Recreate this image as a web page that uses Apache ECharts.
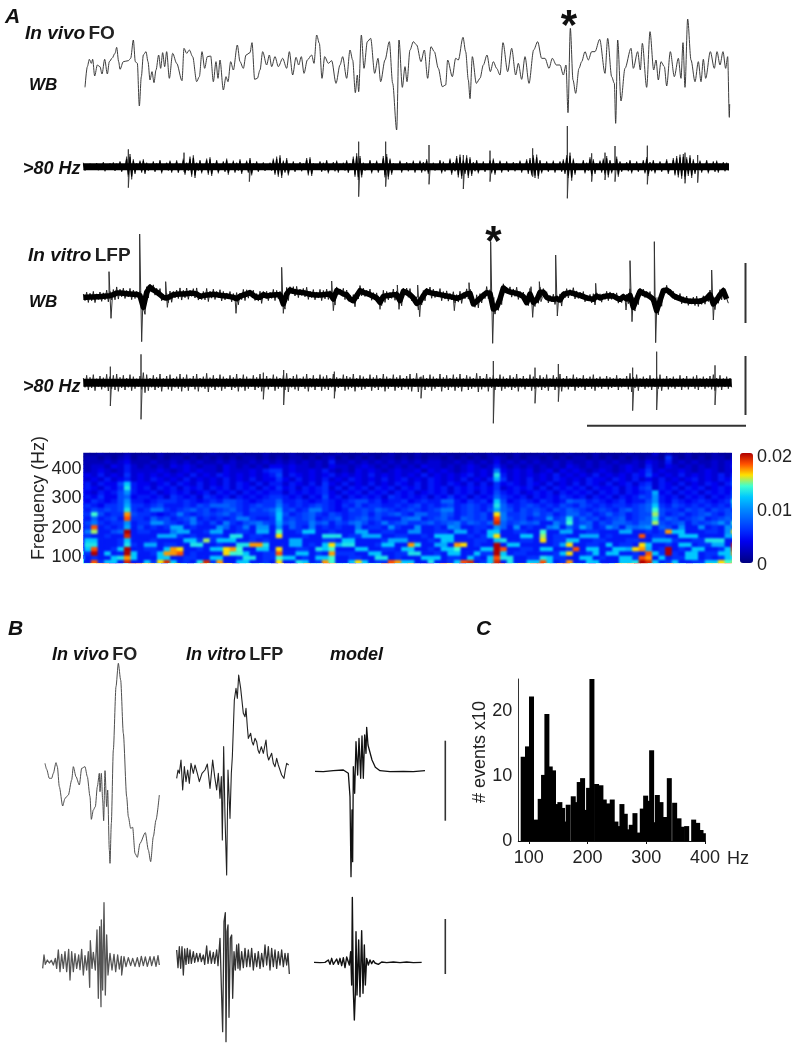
<!DOCTYPE html>
<html><head><meta charset="utf-8">
<style>html,body{margin:0;padding:0;background:#fff}#c{width:795px;height:1050px;filter:blur(0.4px)}
#specWrap{position:absolute;left:84px;top:453px;width:648px;height:110px;overflow:hidden}
#spec{position:absolute;left:-6px;top:-6px;width:660px;height:122px;filter:blur(0.9px)}</style>
<script src="https://cdn.jsdelivr.net/npm/echarts@6/dist/echarts.min.js"></script>
</head><body><div id="c"></div><div id="specWrap"><div id="spec"></div></div>
<script>
// ---- Panel A traces: time in samples (3 per px), amplitude in a.u. (3 per px) ----
const wbVivoA=[255,-62,262,0,268,22,274,10,278,22,284,-28,292,5,300,0,306,-22,314,22,322,-22,328,15,336,25,345,40,350,58,356,15,360,-8,370,15,385,18,392,25,400,80,406,15,412,10,418,-118,424,-30,430,35,438,45,444,15,450,-40,456,-15,462,-48,468,-10,476,35,482,-5,488,42,494,0,500,45,508,-35,518,40,530,10,546,-42,552,55,560,40,568,50,578,30,590,-45,598,-30,606,45,614,-5,622,30,632,32,640,-45,648,15,654,-35,660,20,670,-70,678,-30,684,-45,692,15,700,-10,712,65,720,15,730,-5,738,35,750,42,756,72,764,-38,772,-35,780,-10,788,45,800,5,808,35,815,0,825,30,835,0,848,25,860,-5,868,45,878,-25,888,28,896,5,904,30,912,-20,922,20,935,35,942,10,950,95,958,70,966,-35,974,30,985,10,995,18,1008,-50,1020,5,1028,30,1040,-35,1050,50,1058,20,1066,-78,1072,-25,1076,-75,1084,95,1092,-5,1102,75,1112,85,1124,-20,1134,25,1142,-45,1155,20,1168,75,1178,-50,1190,-190];
const wbVivoB=[1197,80,1207,-62,1215,0,1221,-45,1230,50,1240,75,1250,65,1263,15,1273,50,1283,-35,1293,60,1303,45,1315,-5,1327,-60,1337,-55,1343,20,1357,-30,1367,25,1375,20,1389,88,1397,45,1405,-40,1410,-96,1417,30,1429,-50,1440,-35,1450,5,1461,35,1471,-15,1480,15,1490,-5,1500,-25,1509,72,1523,-15,1535,55,1547,-25,1555,10,1565,-38,1575,30,1587,-50,1601,50,1613,75,1625,25,1635,25,1647,-5,1657,25,1669,5,1680,5,1690,-25,1698,5,1704,-138,1711,115,1719,-40,1727,-80,1737,-5,1745,15,1755,45,1765,20,1775,45,1785,45,1799,82,1815,-20,1823,85,1835,-30,1843,-50,1847,-170,1853,80,1863,-103,1875,-5,1893,55,1900,-5,1913,45,1921,-10,1927,70,1940,-62,1950,105,1961,-10,1968,20,1975,-40,1983,15,1993,0,2000,-58,2011,45,2023,-30,2035,25,2043,-35,2049,72,2055,-62,2063,143,2073,20,2085,-45,2095,15,2103,-45,2110,22,2117,-35,2131,45,2143,-5,2151,45,2160,5,2169,45,2177,-5,2183,30,2188,-152,2189,-112];
const hfVivoAmp=[12,6,9,5,11,7,14,6,10,13,
9,16,8,30,38,22,10,18,22,12,
8,16,10,20,7,12,18,8,19,9,
24,12,30,34,12,20,8,24,28,10,
20,8,16,24,9,18,12,22,8,18,
26,10,16,7,13,6,12,24,30,34,
18,26,9,16,8,14,10,26,28,10,
8,16,12,20,8,14,18,9,12,19,
10,30,40,32,12,8,20,10,18,9,
32,38,24,10,7,18,8,14,10,18,
9,18,14,22,9,12,7,20,15,8,
24,14,32,36,22,34,28,14,20,9,
16,8,20,24,10,18,9,16,8,14,
10,18,8,22,26,34,36,20,9,16,
8,18,7,16,22,34,42,24,10,8,
20,12,28,22,10,18,24,32,20,10,
30,16,8,14,20,9,16,10,20,28,
14,20,9,16,8,22,10,26,32,36,
38,28,34,22,10,18,8,20,9,16,
18,9,14,12];
const hfVivoSpikes=[[385,52,385,-63],[552,42,552,-15],[748,10,748,-45],[1076,75,1076,-90],[1157,75,1157,-60],[1287,65,1287,-53],[1390,35,1390,-67],[1470,48,1470,-45],[1598,55,1598,-30],[1702,122,1702,-95],[1775,40,1775,-45],[1815,42,1815,-40],[1845,62,1845,-45],[1942,63,1942,-53],[2055,42,2055,-50],[2093,35,2093,-48]];
const wbVitroWander=[0,0,1,1,2,2,3,4,5,8,
13,13,12,11,10,9,9,5,-30,15,
30,22,16,8,0,-2,2,8,9,10,
10,11,12,12,10,3,5,7,8,9,
8,6,5,4,2,0,-4,3,7,10,
14,6,0,0,8,4,6,7,8,8,
-20,10,22,18,16,15,14,12,9,8,
7,7,8,9,10,-5,20,16,10,8,
-5,-10,5,20,15,12,8,3,-2,-15,
3,5,6,8,8,-10,18,14,8,-2,
-18,-12,5,18,14,12,10,8,6,4,
2,0,-3,0,5,10,12,-20,-12,-3,
6,14,12,-35,-30,-5,28,20,16,14,
12,8,2,-16,10,-15,-8,15,15,0,
-4,-6,-4,-8,8,12,14,12,8,6,
2,-2,-4,-6,4,-2,2,4,5,4,
-2,-6,2,-5,6,-30,-5,18,12,8,
2,-6,-40,-10,20,22,15,5,0,-4,
-8,-10,-12,-12,-12,-12,-8,-3,8,-20,
-8,8,20,-5];
const wbVitroSpikes=[[327,77,333,-63],[419,190,425,-133],[497,47,502,-30],[705,5,708,-48],[845,90,850,-48],[995,49,1000,-40],[1137,5,1140,-36],[1192,37,1197,-36],[1253,37,1259,-58],[1360,0,1363,-40],[1407,44,1410,0],[1472,167,1478,-138],[1593,32,1598,-60],[1618,47,1623,-13],[1667,127,1672,-56],[1787,42,1790,-5],[1875,2,1878,-38],[1890,110,1896,-73],[1963,167,1967,-136],[2135,82,2140,-68]];
const hfVitroAmp=[14,22,16,24,12,20,15,25,18,22,
26,16,22,14,24,18,12,20,30,24,
14,22,16,26,13,20,24,14,18,26,
16,24,13,20,26,14,18,28,15,22,
14,24,18,13,22,16,26,14,24,18,
12,22,16,26,14,20,13,24,18,14,
22,28,14,20,24,13,18,26,14,22,
13,24,18,22,14,26,16,13,24,20,
16,26,14,22,18,13,24,16,22,14,
26,18,13,24,16,22,14,20,26,13,
28,16,22,14,24,18,13,26,16,22,
14,24,16,26,13,22,18,14,28,20,
14,26,16,22,13,24,18,14,22,16,
26,14,20,13,24,18,14,22,16,24,
13,22,16,26,14,20,13,24,16,14,
22,13,18,24,14,18,12,20,16,13,
22,14,12,20,28,16,24,13,18,14,
22,13,18,24,12,20,14,18,12,22,
14,20,12,18,22,13,18,14,20,24,
14,22,13,18,14];
const hfVitroSpikes=[[331,48,331,-70],[423,85,423,-110],[790,30,790,-50],[851,38,851,-67],[1003,33,1003,-47],[1263,18,1263,-47],[1480,65,1480,-122],[1605,45,1605,-62],[1675,56,1675,-57],[1898,45,1898,-84],[1970,93,1970,-82],[2145,52,2145,-67]];

// ---- Spectrogram: rows from high to low frequency, one level per time bin, base 36, level x 0.001 ----
const specRows=[
"1111111111 1111111111 1111111111 1111111111 1111111111 1111111111 1111111111 1111111111 1111111111 1111111111",
"1112111211 1121112111 2111211121 1121112112 1112111211 1211121112 1121112111 2111211121 1112111312 1121112111",
"1221212312 2121221212 1212122121 2122121231 2121212212 1212212121 2123212122 1212122121 2121212216 2121212213",
"2222323422 2322323232 2323223232 3232323252 2323232323 2323322323 2324232323 2232322323 2322324325 2323223234",
"3233243532 3232434323 3243232324 4343323243 3234323232 3243323234 3235323232 3232432323 3234325324 3232323235",
"3234323533 3343234343 3243334356 6343343532 3243432343 3424343234 3439434342 3424343234 3234346343 3432343234",
"3435343634 3434343534 3543434345 7354343453 4343534343 4353434345 343d534343 4353434353 4343547434 3534343536",
"4343534534 3543435343 4353435344 6435343534 3543435345 3435434353 435b634353 4354343544 3543534353 4345343547",
"3535447c54 4345354353 4353543535 5354353643 5343534354 3535435435 3536454354 3534353543 5345356354 3534354358",
"4543546d54 5354535453 5453545354 6453545635 3545354535 4535453545 4546345453 5354545354 4535467354 5354534546",
"5435457a54 4534545345 3545354545 5354545643 5453545354 5345453545 3547545345 4535454535 4535456b45 3545354548",
"4546447845 5453654536 5453545456 6545354745 3545453654 5453546453 5458654535 4546545354 5354576a54 5354535458",
"5465457a55 4566656545 6577654566 8556545654 5677564556 4565588546 564c745654 6545877565 4564557a54 654565456d",
"5654667b66 5675556576 8887656766 9656567654 6575665565 6756567567 656d865676 5657657656 5665678c65 765656565b",
"6576767d65 6996567867 5678657678 b675699654 5767687656 7656799567 657b875767 6576876567 6578678e76 6576757676",
"66e7566h76 6545696567 6786756667 c756786576 5667576786 5886687567 675g966768 6756886756 8675677f75 6756786578",
"6585675i66 5867567956 5656996556 c676785678 5678675558 9956786587 675i976756 6a67d68675 6785678d68 7567856787",
"5796566a56 6aa7656965 7596578976 b786697857 6897569678 6678678968 768j867878 5597e67857 6887688f76 7857678a7e",
"56i5656b57 5656bb5655 5a85695aa5 a586595656 5595665a65 5a5565a955 665a85a565 59a586b856 a85989a587 5a55a565a9",
"59f5578k56 65559bb556 bb55665bb5 e556cc5565 55bb556655 aa55665bb5 65cc556655 e55bb55665 55bb55656h cc555665ag",
"6655655j55 55bbb65655 665dd56655 g555655ddd 566bbb5566 5565ccc556 56cg555cc5 f56655bbb5 65555i5665 5ccc5555bb",
"5cc5556c55 565555cc6f 6ccc556565 55bb555665 cc55556bbb 55565cc555 665cd55665 g566cc5566 5556655bbb 65566ddd55",
"6dd5556d65 bb56655dd5 5655ddhhd5 55bb565cgb dd5556cc55 hd55bb5hg5 655k5cc555 556bg55665 c5665gc556 5cc566bb5j",
"5ci556ck55 665chg5565 ccghe55cc5 g55665dce5 55cc55665c c5565cce55 5ccki55665 cc556i5cc5 5ccbghb56k 565cc556cj",
"66k5c55kc5 56chhi5655 55geec5566 i55cc565h6 6655cc5566 dd5565cc55 c66kc56655 556cg556c5 cc5565ic6k 65cc566cch",
"c5655cdhc5 55cc556655 cc556dd566 ecc565cce5 56655dd565 55ccc5665c 65cidd5566 dc6655cc56 55cc6ih5c5 66cc5656cd",
"55i6cc5j55 c6gjc565dj 6h55cc5565 g55dc56he5 5cgc566ihc c55d556cij 56cj5d55cc ic56h55cc5 55ccdkjc56 c5566ccgef",
"dghi55ckjg hd5egc5dif chg5ceaec5 g55dhccihc d5aceejjcc h655cigc5c fdckjcegfi jeahjecc5d 5cgfhkjdce hcd5ccgfhi"];
const freqTicks=[100,200,300,400];
const colorbarStops=['#00007f','#0000b8','#0000f0','#0030ff','#0060ff','#0090ff','#00c8ff','#40ffd0','#ffe000','#ff5000','#b00000'];

// ---- Panel B traces ----
const foTop=[135,20,140,2,148,-25,155,-25,160,-10,168,22,172,10,178,-50,188,-108,195,-85,205,-75,215,-30,220,10,228,-20,238,-45,245,5,255,10,262,-20,270,-80,274,-148,280,-120,286,-110,292,-50,298,-10,300,-65,304,-10,308,-90,311,-152,315,-2,320,-110,323,-60,328,-240,330,-280,334,-160,340,60,348,250,355,320,362,270,370,110,380,-80,385,-140,392,-175,398,-172,405,-250,412,-262,420,-220,436,-188,445,-240,452,-275,460,-200,468,-150,478,-75];
const lfpTop=[530,-25,534,0,538,-10,543,30,548,-60,553,10,558,-35,563,0,568,-40,573,20,580,-10,585,15,592,-10,598,-35,606,-10,615,0,622,18,630,-55,638,30,644,-20,650,-60,655,-10,660,-85,664,-20,667,-210,671,70,675,-140,680,-315,684,0,690,-145,694,-10,697,40,703,210,708,245,712,215,716,285,722,245,730,170,735,160,738,185,742,130,745,95,752,110,756,85,760,75,765,95,770,85,774,60,778,50,784,70,790,50,798,90,802,45,806,30,815,50,820,20,825,10,830,35,835,15,840,0,845,-15,852,-25,856,0,860,20,866,15];
const modelTop=[75,-1,100,-2,130,1,160,3,175,-7,180,-77,183,-317,186,-117,188,-272,190,13,194,-67,198,88,203,-12,207,98,212,-22,216,105,220,-22,224,108,228,53,230,131,234,78,240,83,246,33,256,11,270,1,300,-2,340,-1,370,-2,405,1];
const foBottom=[68,-20,72,20,76,-8,82,5,88,-4,94,4,100,-10,106,10,110,-20,115,35,120,-30,125,22,130,-20,135,30,140,-30,146,37,150,-55,155,30,160,-30,165,24,170,-20,176,20,180,-24,185,37,190,-40,195,18,200,-25,205,30,209,-77,211,63,216,-20,220,28,226,-25,231,95,235,-110,239,105,243,-135,244,125,248,-85,252,177,256,-100,260,80,264,-40,270,25,276,-25,282,22,287,-30,293,20,298,-22,304,16,305,-40,312,15,318,-15,325,12,332,-12,338,10,345,-14,352,12,358,-15,364,16,370,-12,376,14,382,-14,390,15,395,-12,402,15,408,-14,414,18,418,-10];
const lfpBottom=[470,35,474,-18,478,45,482,-20,486,45,490,-40,494,38,498,-8,502,40,506,-5,510,35,514,-5,520,30,524,-2,530,25,534,0,540,25,544,0,550,20,554,-8,560,47,564,-5,570,32,574,-5,580,28,584,-5,590,35,594,-12,600,70,604,-72,608,-210,612,120,616,147,618,-240,621,90,624,110,627,-167,631,70,635,80,638,-110,642,30,646,-25,650,50,654,-20,656,53,660,-25,665,30,670,-18,675,40,680,-15,685,35,690,-15,695,40,700,-25,705,25,710,-15,715,30,720,-20,725,25,730,-15,735,50,740,-10,745,45,750,-25,755,40,760,-15,765,35,770,-20,775,30,780,-10,785,35,790,-15,795,25,800,-10,804,25,808,-37];
const modelBottom=[882,-2,900,-3,915,-2,925,5,930,-8,935,10,940,-8,945,-12,950,8,955,-8,960,10,965,-12,970,12,975,-18,980,14,985,20,988,-10,992,30,995,-70,997,193,1000,-85,1003,-175,1006,-95,1008,90,1011,-100,1016,65,1020,-105,1025,93,1029,-95,1033,50,1036,-70,1040,10,1045,-10,1050,5,1055,-6,1060,3,1065,-4,1075,-8,1085,-1,1100,-3,1120,-1,1140,-3,1160,-1,1180,-3,1205,-2];

// ---- Panel C histogram ----
const histHz=[90.3,97.7,104.5,112.5,119.3,125,130.7,136.4,142,147.7,152.8,157.4,161.4,167,175.6,181.8,185.8,191.5,197.2,201.7,207.4,215.3,222.7,228.4,234.7,242,248.3,252.8,258.5,264.2,268.8,274.4,280.7,286.9,293.2,298.9,303.4,309.1,314.2,318.8,325,331.3,339.2,348.3,355.7,361.4,368.8,380.7,387.5,393.2,397.2];
const histCount=[13,14.6,22.3,3.3,6.5,10.2,19.6,11.5,10.9,5.7,6,5.1,3,5.6,6.9,6,9.1,9.7,4.8,8.2,25,8.8,8.6,6.4,5.8,6.4,3,2.3,5.7,4.2,1.8,2.5,4.3,1.3,5,7,6.2,14,2.9,7.1,6,3.7,9.7,5.9,3.5,2.2,2.3,3.3,2.8,1.7,1.2];
const histXTicks=[100,200,300,400];
const histYTicks=[0,10,20];

// ---- helpers ----
const toPairs=f=>{const o=[];for(let i=0;i<f.length;i+=2)o.push([f[i],f[i+1]]);return o;};
const fuzz=(amp,t0,k,center)=>{const o=[];amp.forEach((a,i)=>{const c=center?center[i]:0;o.push([t0+i*10,c+a*k],[t0+i*10+5,c-a*k]);});return o;};
const band=(a,t0)=>a.map((v,i)=>[t0+i*10,v]);
const spikes=s=>{const o=[];s.forEach(k=>{o.push([k[0],0],[k[0],k[1]],[k[2],k[3]],[k[2]+4,0],[k[2]+4,'-']);});return o;};
const lineS=(g,data,color,width,smooth)=>({type:'line',xAxisIndex:g,yAxisIndex:g,data,symbol:'none',showSymbol:false,animation:false,silent:true,connectNulls:false,smooth:smooth||false,smoothMonotone:smooth?'x':undefined,lineStyle:{color,width,join:'round'}});

const F='"Liberation Sans",Arial,sans-serif';
const hide={show:false};
const xA=(gridIndex,min,max)=>({type:'value',gridIndex,min,max,...hide});
const yA=(gridIndex,min,max)=>({type:'value',gridIndex,min,max,...hide});

const grids=[
 {left:0,top:0,width:795,height:210},     //0 vivo WB
 {left:0,top:0,width:795,height:210},     //1 vivo HF
 {left:0,top:220,width:795,height:220},   //2 vitro WB
 {left:0,top:220,width:795,height:220},   //3 vitro HF
 {left:83.5,top:453,width:648,height:110},//4 spectrogram
 {left:0,top:610,width:300,height:280},   //5 B top
 {left:290,top:610,width:170,height:280}, //6 B model
 {left:20,top:880,width:440,height:170},  //7 B bottom
 {left:518.3,top:679,width:186.7,height:162} //8 hist
];
const timeBins=Array.from({length:100},(_,i)=>i);
const freqBins=Array.from({length:28},(_,i)=>i);
const specData=[];
specRows.forEach((row,r)=>{row.split(' ').forEach((chunk,c)=>{[...chunk].forEach((ch,k)=>{specData.push([c*10+k,27-r,parseInt(ch,36)*0.001]);});});});

const xAxes=[xA(0,0,2385),xA(1,0,2385),xA(2,0,2385),xA(3,0,2385),
 {type:'category',gridIndex:4,data:timeBins,show:false},
 xA(5,0,900),xA(6,0,510),xA(7,0,1320),
 {type:'value',gridIndex:8,min:82,max:400,
  axisLine:{show:true,onZero:false,lineStyle:{color:'#111',width:1}},
  axisTick:{show:true,length:3,customValues:histXTicks,lineStyle:{color:'#111'}},
  axisLabel:{customValues:histXTicks,fontFamily:F,fontSize:18,color:'#222',margin:8},splitLine:{show:false}}];
const yAxes=[yA(0,-430,200),yA(1,-130,500),yA(2,-428,232),yA(3,-172,488),
 {type:'category',gridIndex:4,data:freqBins,show:false},
 yA(5,-360,480),yA(6,-357,483),yA(7,-265,245),
 {type:'value',gridIndex:8,min:0,max:25,
  axisLine:{show:true,lineStyle:{color:'#333',width:1}},axisTick:{show:false},
  axisLabel:{customValues:histYTicks,fontFamily:F,fontSize:18,color:'#222',margin:6},splitLine:{show:false}},
 {type:'value',gridIndex:4,position:'left',min:80,max:455,
  axisLine:{show:false},axisTick:{show:false},splitLine:{show:false},
  axisLabel:{customValues:freqTicks,fontFamily:F,fontSize:18,color:'#222',margin:2}}];

const txt=(text,x,y,font,extra)=>({type:'text',silent:true,style:Object.assign({text,x,y,font,fill:'#111',align:'left',verticalAlign:'middle'},extra||{})});
const BI='italic bold 18px '+F, R='18px '+F;
const richLabel=(text,x,y,size)=>({type:'text',silent:true,style:{text,x,y,align:'left',verticalAlign:'middle',fill:'#111',rich:{i:{font:'italic bold '+size+'px '+F,fill:'#111'},b:{font:'bold '+size+'px '+F,fill:'#222'}}}});
const bar=(x1,y1,x2,y2,w)=>({type:'line',silent:true,shape:{x1,y1,x2,y2},style:{stroke:'#333',lineWidth:w}});

const option={
 animation:false,backgroundColor:'#fff',
 grid:grids,xAxis:xAxes,yAxis:yAxes,
 visualMap:{type:'continuous',seriesIndex:10,min:0,max:0.02,left:740,top:453,itemWidth:13,itemHeight:110,padding:0,calculable:false,hoverLink:false,text:null,showLabel:false,inRange:{color:colorbarStops}},
 series:[
  lineS(0,toPairs(wbVivoA).concat(toPairs(wbVivoB)),'#333',0.95,0.3),
  lineS(1,fuzz(hfVivoAmp,250,1.0),'#444',0.9),
  lineS(1,spikes(hfVivoSpikes),'#333',0.9),
  lineS(1,fuzz(hfVivoAmp,250,0.75),'#000',1.2),
  lineS(1,[[250,0],[2187,0]],'#000',7),
  lineS(2,fuzz(hfVitroAmp,250,0.7,wbVitroWander),'#222',1),
  lineS(2,spikes(wbVitroSpikes),'#333',1),
  lineS(2,band(wbVitroWander,250),'#000',5.5),
  lineS(3,fuzz(hfVitroAmp,250,1),'#333',1),
  lineS(3,spikes(hfVitroSpikes),'#333',0.9),
  {type:'heatmap',xAxisIndex:4,yAxisIndex:4,data:specData,progressive:0,animation:false,silent:true},
  lineS(3,[[250,0],[2195,0]],'#000',8),
  lineS(5,toPairs(foTop),'#444',0.95,0.25),
  lineS(5,toPairs(lfpTop),'#222',1.1),
  lineS(6,toPairs(modelTop),'#111',1.3),
  lineS(7,toPairs(foBottom),'#555',1.3),
  lineS(7,toPairs(lfpBottom),'#333',1.3),
  lineS(7,toPairs(modelBottom),'#111',1.4),
  {type:'bar',xAxisIndex:8,yAxisIndex:8,data:histHz.map((h,i)=>[h,histCount[i]]),barWidth:5,itemStyle:{color:'#000'},animation:false,silent:true}
 ],
 graphic:{elements:[
  txt('A',5,17,'italic bold 21px '+F),
  richLabel('{i|In vivo} {b|FO}',25,34,19),
  txt('WB',29,85,'italic bold 17px '+F),
  txt('>80 Hz',23,169,BI),
  richLabel('{i|In vitro} {b|LFP}',28,255.5,19),
  txt('WB',29,302,'italic bold 17px '+F),
  txt('>80 Hz',23,387,BI),
  txt('*',569,27,'bold 42px '+F,{align:'center'}),
  txt('*',493.5,243,'bold 42px '+F,{align:'center'}),
  bar(745.5,263,745.5,323,2),
  bar(745.5,356,745.5,415,2),
  bar(587,425.7,746,425.7,2),
  {type:'text',silent:true,rotation:Math.PI/2,x:39,y:498,style:{text:'Frequency (Hz)',font:R,fill:'#222',align:'center',verticalAlign:'middle'}},
  txt('0.02',757,457,R,{fill:'#222'}),
  txt('0.01',757,510.7,R,{fill:'#222'}),
  txt('0',757,565,R,{fill:'#222'}),
  txt('B',8,629,'italic bold 21px '+F),
  richLabel('{i|In vivo} {b|FO}',52,655,18),
  richLabel('{i|In vitro} {b|LFP}',186,655,18),
  txt('model',330,655,BI),
  bar(445.3,740.7,445.3,820.7,1.6),
  bar(445.3,919,445.3,974,1.6),
  txt('C',476,629,'italic bold 21px '+F),
  {type:'text',silent:true,rotation:Math.PI/2,x:480,y:752,style:{text:'# events x10',font:R,fill:'#222',align:'center',verticalAlign:'middle'}},
  txt('Hz',727,859,R,{fill:'#222'})
 ]}
};
const chart=echarts.init(document.getElementById('c'),null,{renderer:'canvas'});
chart.setOption(option);

// Softened copy of the same spectrogram laid over the cells, as in the interpolated original.
const specChart=echarts.init(document.getElementById('spec'),null,{renderer:'canvas'});
specChart.setOption({animation:false,
 grid:{left:0,right:0,top:0,bottom:0},
 xAxis:{type:'category',data:timeBins,show:false},
 yAxis:{type:'category',data:freqBins,show:false},
 visualMap:{show:false,min:0,max:0.02,inRange:{color:colorbarStops}},
 series:[{type:'heatmap',data:specData,progressive:0,animation:false,silent:true}]});
</script></body></html>
